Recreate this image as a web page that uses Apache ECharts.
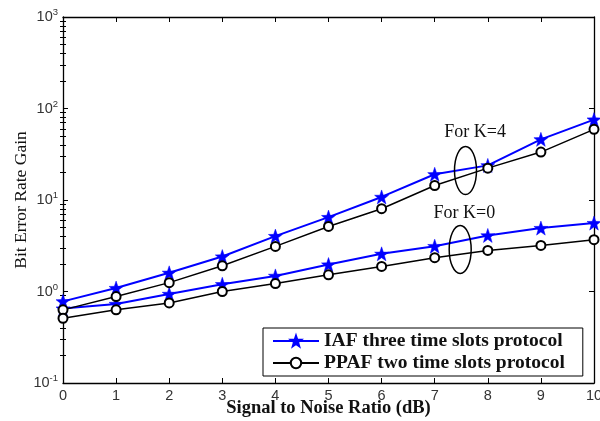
<!DOCTYPE html>
<html>
<head>
<meta charset="utf-8">
<script src="https://cdn.jsdelivr.net/npm/echarts@6/dist/echarts.min.js"></script>
<style>
  html, body { margin: 0; padding: 0; background: #ffffff; }
  #chart { width: 600px; height: 421px; }
</style>
</head>
<body>
<div id="chart"></div>
<script>
// Signal to noise ratio (dB) on the x axis
const snr = [0, 1, 2, 3, 4, 5, 6, 7, 8, 9, 10];

// Bit error rate gain, Rician factor K = 4
const iafK4  = [0.78, 1.09, 1.60, 2.41, 4.03, 6.50, 10.8, 19.1, 23.9, 46.0, 75.6];
const ppafK4 = [0.63, 0.88, 1.25, 1.91, 3.11, 5.14, 8.03, 14.4, 22.3, 33.4, 59.2];

// Bit error rate gain, Rician factor K = 0
const iafK0  = [0.65, 0.73, 0.94, 1.20, 1.48, 1.97, 2.58, 3.13, 4.10, 4.93, 5.59];
const ppafK0 = [0.51, 0.63, 0.75, 1.00, 1.22, 1.52, 1.88, 2.34, 2.81, 3.19, 3.68];

const seriesNames = ['IAF three time slots protocol', 'PPAF two time slots protocol'];

// Decade ticks (labelled) and the 2..9 minor ticks of the log axis
const yDecades = [0.1, 1, 10, 100, 1000];
const yMinor = [];
yDecades.slice(0, -1).forEach(function (d) {
  [2, 3, 4, 5, 6, 7, 8, 9].forEach(function (m) { yMinor.push(+(d * m).toPrecision(3)); });
});

const xTicks = { min: 0, max: 10, interval: 1 };

const BLUE = '#0000ff';
const INK = '#000000';
const LABEL = '#333333';

// five-pointed star marker
const STAR = 'path://M0,-10L2.35,-3.24L9.51,-3.09L3.8,1.24L5.88,8.09L0,4L-5.88,8.09L-3.8,1.24L-9.51,-3.09L-2.35,-3.24Z';

function pairs(ys) { return snr.map(function (x, i) { return [x, ys[i]]; }); }

function iafSeries(ys) {
  return {
    name: seriesNames[0], type: 'line', data: pairs(ys),
    symbol: STAR, symbolSize: 14,
    itemStyle: { color: BLUE, borderColor: BLUE, borderWidth: 0.5 },
    lineStyle: { color: BLUE, width: 2 },
    emphasis: { disabled: true }, z: 3
  };
}
function ppafSeries(ys) {
  return {
    name: seriesNames[1], type: 'line', data: pairs(ys),
    symbol: 'emptyCircle', symbolSize: 9,
    itemStyle: { color: INK, borderColor: INK, borderWidth: 1.4 },
    lineStyle: { color: INK, width: 1.5 },
    emphasis: { disabled: true }, z: 4
  };
}

const frameLine = { show: true, onZero: false, lineStyle: { color: INK, width: 1.3 } };

function xAxisDef(pos, withLabels) {
  return {
    type: 'value', position: pos, min: xTicks.min, max: xTicks.max, interval: xTicks.interval,
    axisLine: frameLine,
    axisTick: { show: true, inside: true, length: 5, lineStyle: { color: INK, width: 1 } },
    axisLabel: withLabels ? { show: true, margin: 5, color: LABEL, fontFamily: 'Liberation Sans', fontSize: 14.5 } : { show: false },
    splitLine: { show: false },
    name: withLabels ? 'Signal to Noise Ratio (dB)' : '',
    nameLocation: 'middle', nameGap: 16, nameMoveOverlap: false,
    nameTextStyle: { fontFamily: 'Liberation Serif', fontWeight: 'bold', fontSize: 18.5, color: '#111' }
  };
}

function yAxisDef(pos, ticks, tickLen, withLabels, showLine) {
  return {
    type: 'log', logBase: 10, position: pos, min: yDecades[0], max: yDecades[yDecades.length - 1],
    axisLine: showLine ? frameLine : { show: false },
    axisTick: { show: true, inside: true, length: tickLen, customValues: ticks, lineStyle: { color: INK, width: 1 } },
    axisLabel: withLabels ? {
      show: true, margin: 5, customValues: yDecades, color: LABEL,
      formatter: function (v) { return '{b|10}{e|' + Math.round(Math.log10(v)) + '}'; },
      rich: {
        b: { fontFamily: 'Liberation Sans', fontSize: 14.5, color: LABEL },
        e: { fontFamily: 'Liberation Sans', fontSize: 9.5, color: LABEL, padding: [0, 0, 9, 0] }
      }
    } : { show: false },
    splitLine: { show: false },
    name: withLabels ? 'Bit Error Rate Gain' : '',
    nameLocation: 'middle', nameGap: 33, nameMoveOverlap: false,
    nameTextStyle: { fontFamily: 'Liberation Serif', fontSize: 17.5, color: '#111' }
  };
}

const chart = echarts.init(document.getElementById('chart'), null, { renderer: 'canvas' });

chart.setOption({
  animation: false,
  backgroundColor: '#ffffff',
  grid: { left: 63, right: 6, top: 17, bottom: 38, outerBoundsMode: 'none', containLabel: false },
  xAxis: [xAxisDef('bottom', true), xAxisDef('top', false)],
  yAxis: [
    yAxisDef('left', yDecades, 5, true, true),
    yAxisDef('left', yMinor, 3, false, false),
    yAxisDef('right', yDecades, 5, false, true),
    yAxisDef('right', yMinor, 3, false, false)
  ],
  legend: {
    left: 263, top: 328, orient: 'vertical',
    backgroundColor: '#ffffff', borderColor: INK, borderWidth: 1, borderRadius: 0,
    padding: [3, 18, 3, 9], itemGap: 2, itemWidth: 46, itemHeight: 13,
    textStyle: { fontFamily: 'Liberation Serif', fontWeight: 'bold', fontSize: 19.5, color: '#111' },
    data: seriesNames, selectedMode: false
  },
  series: [iafSeries(iafK4), ppafSeries(ppafK4), iafSeries(iafK0), ppafSeries(ppafK0)]
});

// Group annotations: a label and an ellipse around each pair of curves, anchored in data space
const groups = [
  { text: 'For K=4', textAt: [7.76, 55], ringAt: [7.58, 21] },
  { text: 'For K=0', textAt: [7.56, 7.1], ringAt: [7.48, 2.88] }
];
const graphics = [];
groups.forEach(function (g) {
  const t = chart.convertToPixel({ gridIndex: 0 }, g.textAt);
  const r = chart.convertToPixel({ gridIndex: 0 }, g.ringAt);
  graphics.push({
    type: 'text', x: t[0], y: t[1], z: 10,
    style: { text: g.text, align: 'center', verticalAlign: 'middle', fill: '#111',
             font: '18px "Liberation Serif"' }
  });
  graphics.push({
    type: 'ellipse', z: 10,
    shape: { cx: r[0], cy: r[1], rx: 11, ry: 24 },
    style: { fill: 'none', stroke: INK, lineWidth: 1.5 }
  });
});
chart.setOption({ graphic: graphics });
</script>
</body>
</html>
